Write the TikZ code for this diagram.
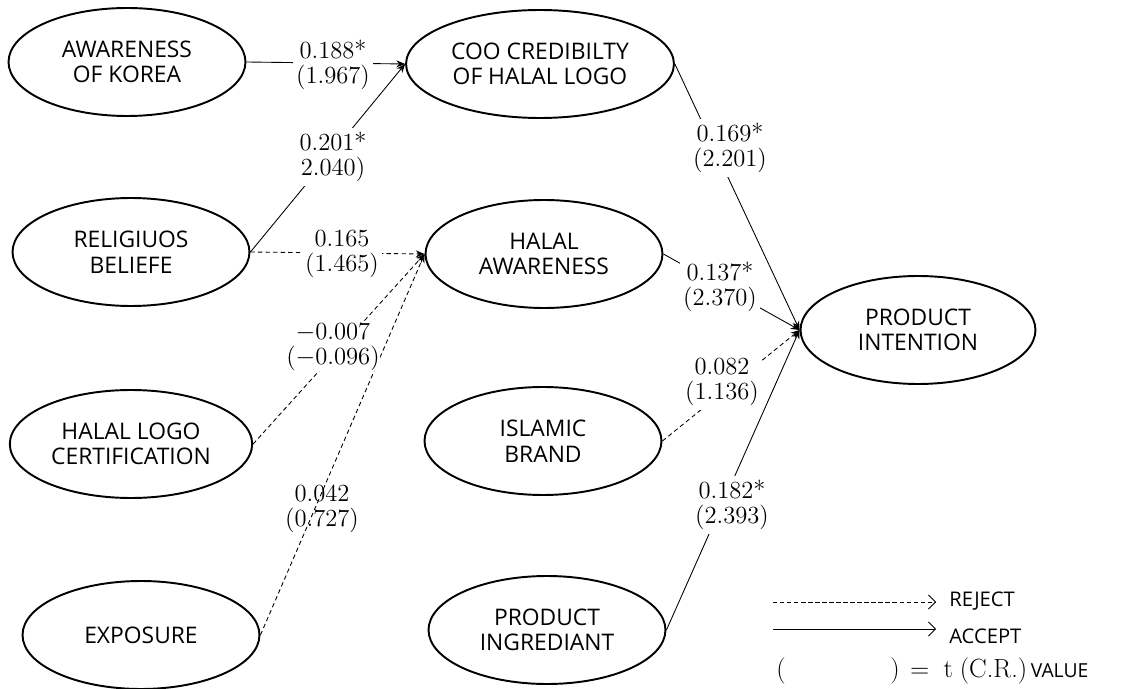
\documentclass[tikz,border=0pt]{standalone}
\usepackage{fontspec}
\usepackage{tikz}
\usetikzlibrary{shapes.geometric,arrows.meta}
\newfontfamily\ovalfont{Open Sans}

\begin{document}
\begin{tikzpicture}[x=0.02cm,y=-0.02cm,
	oval/.style={ellipse,draw,line width=1.1pt,minimum width=4.74cm,minimum height=2.16cm,align=center,font=\ovalfont\fontsize{13}{14.5}\selectfont},
	acc/.style={line width=0.5pt,-{Stealth[length=5pt,width=4pt]}},
	rej/.style={acc,dash pattern=on 2.5pt off 1.8pt},
	coef/.style={fill=white,inner sep=2pt,align=center,font=\fontsize{14}{14.5}\selectfont},
	keytxt/.style={anchor=west,inner sep=0pt,font=\ovalfont\fontsize{11.5}{13}\selectfont},
	keyline/.style={line width=0.5pt,-{Straight Barb[length=4pt,width=8pt]}}]
				\useasboundingbox (0,0) rectangle (1133,689);
				% left column
				\node[oval] (korea) at (127,62) {AWARENESS\\OF KOREA};
				\node[oval] (relig) at (131,252) {RELIGIUOS\\BELIEFE};
				\node[oval] (logocert) at (131,444) {HALAL LOGO\\CERTIFICATION};
				\node[oval] (expo) at (141,635) {EXPOSURE};
				% middle column
				\node[oval] (coo) at (540,64) {COO CREDIBILTY\\OF HALAL LOGO};
				\node[oval] (halalaw) at (544,254) {HALAL\\AWARENESS};
				\node[oval] (islamic) at (543,441) {ISLAMIC\\BRAND};
				\node[oval] (ingred) at (547,630) {PRODUCT\\INGREDIANT};
				% right
				\node[oval,minimum width=4.7cm] (intent) at (918,330) {PRODUCT\\INTENTION};
				% paths
				\draw[acc] (korea.east) -- (coo.west);
				\draw[acc] (relig.east) -- (coo.west);
				\draw[rej] (relig.east) -- (halalaw.west);
				\draw[rej] (logocert.east) -- (halalaw.west);
				\draw[rej] (expo.east) -- (halalaw.west);
				\draw[acc] (coo.east) -- (intent.west);
				\draw[acc] (halalaw.east) -- (intent.west);
				\draw[rej] (islamic.east) -- (intent.west);
				\draw[acc] (ingred.east) -- (intent.west);
				% estimates (t value)
				\node[coef] (c1) at (333,65) {0.188*\\(1.967)};
				\node[coef] (c2) at (333,157) {0.201*\\2.040)};
				\node[coef] (c3) at (342,254) {0.165\\(1.465)};
				\node[coef,inner sep=0pt] (c4) at (333,347) {$-$0.007\\($-$0.096)};
				\node[coef,fill=none] (c5) at (322,509) {0.042\\(0.727)};
				\node[coef] (c6) at (730,148) {0.169*\\(2.201)};
				\node[coef] (c7) at (720,287) {0.137*\\(2.370)};
				\node[coef] (c8) at (722,382) {0.082\\(1.136)};
				\node[coef] (c9) at (732,505) {0.182*\\(2.393)};
				% legend
				\coordinate (rejstart) at (773,602);
				\coordinate (rejend) at (936,602);
				\coordinate (accstart) at (773,629);
				\coordinate (accend) at (936,629);
				\node[keytxt] (rejtxt) at (949,601) {REJECT};
				\node[keytxt] (acctxt) at (949,636) {ACCEPT};
				\draw[keyline,dash pattern=on 2.5pt off 1.5pt] (rejstart) -- (rejend);
				\draw[keyline] (accstart) -- (accend);
				\node[inner sep=0pt,font=\fontsize{15}{17}\selectfont] (lpar) at (781,671) {(};
				\node[anchor=west,inner sep=0pt,font=\fontsize{15}{17}\selectfont] (tval) at (890,671) {)\hspace{6pt}$=$\hspace{8pt}t\hspace{4pt}(C.R.)\hspace{2pt}{\ovalfont\fontsize{11}{13}\selectfont VALUE}};
			\end{tikzpicture}
\end{document}
